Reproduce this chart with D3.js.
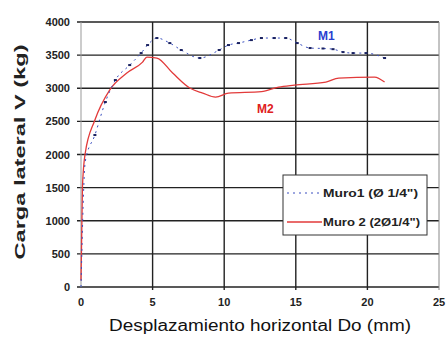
<!DOCTYPE html>
<html>
<head>
<meta charset="utf-8">
<script src="https://cdn.jsdelivr.net/npm/d3@7"></script>
<style>
  body { margin: 0; background: #fff; }
  text { font-family: "Liberation Sans", Arial, sans-serif; }
</style>
</head>
<body>
<div class="container"></div>
<script>
// Muro 1 (dotted blue) - displacement (mm) and load (kg)
const m1X = [0, 0.3, 0.97, 1.7, 2.4, 3.4, 4.2, 4.65, 5.3, 6.2, 7.0, 8.3, 9.65, 10.3, 11.0, 11.9, 12.6, 13.5, 14.3, 15.1, 16.0, 16.9, 17.6, 18.3, 19.0, 19.9, 21.2];
const m1Y = [0, 1900, 2294, 2792, 3124, 3350, 3531, 3652, 3758, 3682, 3577, 3456, 3577, 3652, 3682, 3727, 3758, 3758, 3758, 3682, 3607, 3600, 3590, 3546, 3531, 3531, 3456];
// Muro 2 (solid red)
const m2X = [0, 0.1, 0.28, 0.97, 2.0, 3.2, 4.3, 4.6, 5.3, 6.4, 7.6, 8.5, 9.4, 10.3, 12.6, 13.8, 14.9, 17.1, 18.0, 20.5, 21.2];
const m2Y = [100, 1500, 2000, 2520, 2973, 3229, 3395, 3470, 3456, 3229, 3003, 2927, 2867, 2927, 2950, 3018, 3048, 3093, 3154, 3169, 3093];

const xTicks = [0, 5, 10, 15, 20, 25];
const yTicks = [0, 500, 1000, 1500, 2000, 2500, 3000, 3500, 4000];
const legendLabels = ["Muro1 (Ø 1/4\")", "Muro 2 (2Ø1/4\")"];

const w = 446;
const h = 349;
const pLeft = 81, pRight = 439, pTop = 22, pBottom = 287;

const xScale = d3.scaleLinear().domain([0, 25]).range([pLeft, pRight]);
const yScale = d3.scaleLinear().domain([0, 4000]).range([pBottom, pTop]);

const svg = d3.select(".container")
  .append("svg")
  .attr("width", w)
  .attr("height", h);

// horizontal grid
svg.append("g")
  .selectAll("line")
  .data(yTicks)
  .enter()
  .append("line")
  .attr("x1", pLeft - 4)
  .attr("x2", pRight)
  .attr("y1", d => yScale(d))
  .attr("y2", d => yScale(d))
  .attr("stroke", "#222")
  .attr("stroke-width", 1.4);

// vertical grid
svg.append("g")
  .selectAll("line")
  .data(xTicks.slice(1))
  .enter()
  .append("line")
  .attr("x1", d => xScale(d))
  .attr("x2", d => xScale(d))
  .attr("y1", pTop)
  .attr("y2", pBottom + 3)
  .attr("stroke", d => d === 25 ? "#888" : "#222")
  .attr("stroke-width", d => d === 25 ? 1 : 1.4);

// left axis line
svg.append("line")
  .attr("x1", pLeft).attr("x2", pLeft)
  .attr("y1", pTop).attr("y2", pBottom)
  .attr("stroke", "#999")
  .attr("stroke-width", 1);

// tick labels
svg.append("g")
  .selectAll("text")
  .data(yTicks)
  .enter()
  .append("text")
  .attr("x", 70)
  .attr("y", d => yScale(d) + 4)
  .attr("text-anchor", "end")
  .attr("font-size", 11)
  .attr("font-weight", "bold")
  .attr("fill", "#222")
  .text(d => d);

svg.append("g")
  .selectAll("text")
  .data(xTicks)
  .enter()
  .append("text")
  .attr("x", d => xScale(d))
  .attr("y", 306)
  .attr("text-anchor", "middle")
  .attr("font-size", 11)
  .attr("font-weight", "bold")
  .attr("fill", "#222")
  .text(d => d);

// axis titles
svg.append("text")
  .attr("x", 260)
  .attr("y", 331)
  .attr("text-anchor", "middle")
  .attr("font-size", 16)
  .attr("textLength", 302)
  .attr("lengthAdjust", "spacingAndGlyphs")
  .attr("fill", "#111")
  .text("Desplazamiento horizontal Do (mm)");

svg.append("text")
  .attr("transform", "translate(25,152) rotate(-90)")
  .attr("text-anchor", "middle")
  .attr("font-size", 15)
  .attr("font-weight", "bold")
  .attr("textLength", 215)
  .attr("lengthAdjust", "spacingAndGlyphs")
  .attr("fill", "#222")
  .text("Carga lateral  V (kg)");

// series
const line = d3.line()
  .x(d => xScale(d[0]))
  .y(d => yScale(d[1]))
  .curve(d3.curveMonotoneX);

const m2 = m2X.map((x, i) => [x, m2Y[i]]);
const m1 = m1X.map((x, i) => [x, m1Y[i]]);

svg.append("path")
  .datum(m2)
  .attr("d", line)
  .attr("fill", "none")
  .attr("stroke", "#e23a3a")
  .attr("stroke-width", 1.3);

svg.append("path")
  .datum(m1)
  .attr("d", line)
  .attr("fill", "none")
  .attr("stroke", "#3a4fc0")
  .attr("stroke-width", 1)
  .attr("stroke-dasharray", "2,4");

svg.append("g")
  .selectAll("rect")
  .data(m1.slice(2))
  .enter()
  .append("rect")
  .attr("x", d => xScale(d[0]) - 1.5)
  .attr("y", d => yScale(d[1]) - 1)
  .attr("width", 3)
  .attr("height", 2)
  .attr("fill", "#1a2260");

// labels on the curves
svg.append("text")
  .attr("x", 318).attr("y", 40)
  .attr("font-size", 12).attr("font-weight", "bold")
  .attr("fill", "#2a3fd0")
  .text("M1");

svg.append("text")
  .attr("x", 257).attr("y", 113)
  .attr("font-size", 12).attr("font-weight", "bold")
  .attr("fill", "#e02020")
  .text("M2");

// legend
const lg = svg.append("g");
lg.append("rect")
  .attr("x", 283).attr("y", 175)
  .attr("width", 144).attr("height", 60)
  .attr("fill", "#fff")
  .attr("stroke", "#333")
  .attr("stroke-width", 1);

const legendY = [193, 222];
lg.selectAll("line")
  .data(legendLabels)
  .enter()
  .append("line")
  .attr("x1", 287).attr("x2", 322)
  .attr("y1", (d, i) => legendY[i]).attr("y2", (d, i) => legendY[i])
  .attr("stroke", (d, i) => i === 0 ? "#3a4fc0" : "#e23a3a")
  .attr("stroke-width", (d, i) => i === 0 ? 1 : 1.3)
  .attr("stroke-dasharray", (d, i) => i === 0 ? "2,4" : null);

lg.selectAll("text")
  .data(legendLabels)
  .enter()
  .append("text")
  .attr("x", 323)
  .attr("y", (d, i) => legendY[i] + 4)
  .attr("font-size", 10)
  .attr("font-weight", "bold")
  .attr("textLength", (d, i) => i === 0 ? 95 : 97)
  .attr("lengthAdjust", "spacingAndGlyphs")
  .attr("fill", "#222")
  .text(d => d);
</script>
</body>
</html>
